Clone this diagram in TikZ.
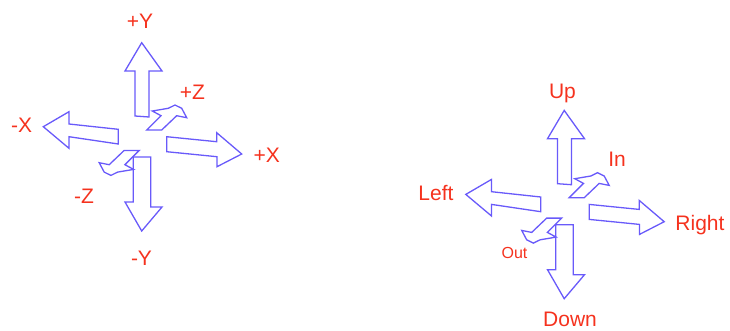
\documentclass[tikz,border=0pt]{standalone}
\usepackage{fontspec}
\setmainfont{Liberation Sans}
\definecolor{arrblue}{RGB}{105,90,250}
\definecolor{lblred}{RGB}{245,50,30}
\tikzset{
  arr/.style={draw=arrblue, line width=1.3pt, line join=miter},
  lbl/.style={text=lblred, font=\fontsize{21}{24}\selectfont, anchor=base, inner sep=0pt},
  lblsmall/.style={lbl, font=\fontsize{16}{18}\selectfont}
}
\newcommand\myarrows{%
  % up
  \draw[arr] (141.7,42.7) -- (162,71) -- (149,71) -- (149,117) -- (135,116) -- (135,71) -- (125,71) -- cycle;
  % down
  \draw[arr] (133.3,157) -- (150.7,157) -- (150.7,207) -- (162,207) -- (141.7,231) -- (125,202) -- (133.3,202) -- cycle;
  % left
  \draw[arr] (43.3,126.7) -- (69,111.7) -- (69,124) -- (118.3,129.3) -- (118.3,144) -- (69,136.7) -- (69,148.3) -- cycle;
  % right
  \draw[arr] (166.7,136.7) -- (216.7,141.7) -- (216.7,132.7) -- (241.7,154) -- (217,166.7) -- (217,156.7) -- (166.7,151.7) -- cycle;
  % in (+Z)
  \draw[arr] (146.7,130) -- (161,115.7) -- (152.3,111) -- (168.3,108.3) -- (175,105) -- (181.7,108.3) -- (186.7,117.7) -- (176.7,115.7) -- (161.7,130) -- cycle;
  % out (-Z)
  \draw[arr] (139.2,150.4) -- (124.9,164.7) -- (133.6,169.4) -- (117.6,172.1) -- (110.9,175.4) -- (104.2,172.1) -- (99.2,162.7) -- (109.2,164.7) -- (124.2,150.4) -- cycle;
}
\begin{document}
\begin{tikzpicture}[x=1pt,y=-1pt]
\useasboundingbox (0,0) rectangle (730,330);
\myarrows
\begin{scope}[shift={(422.5,67.7)}]
  \myarrows
\end{scope}
% labels left figure
\node[lbl] (py) at (140,28) {+Y};
\node[lbl] (pz) at (192.5,99) {+Z};
\node[lbl] (mx) at (21.7,132) {-X};
\node[lbl] (px) at (266.7,162) {+X};
\node[lbl] (mz) at (84,203) {-Z};
\node[lbl] (my) at (141.5,265) {-Y};
% labels right figure
\node[lbl] (up) at (562.5,98) {Up};
\node[lbl] (in) at (617,166) {In};
\node[lbl] (lf) at (436,200) {Left};
\node[lbl] (rt) at (700,230) {Right};
\node[lblsmall] (ot) at (514.5,258) {Out};
\node[lbl] (dn) at (570,326) {Down};
\end{tikzpicture}
\end{document}
